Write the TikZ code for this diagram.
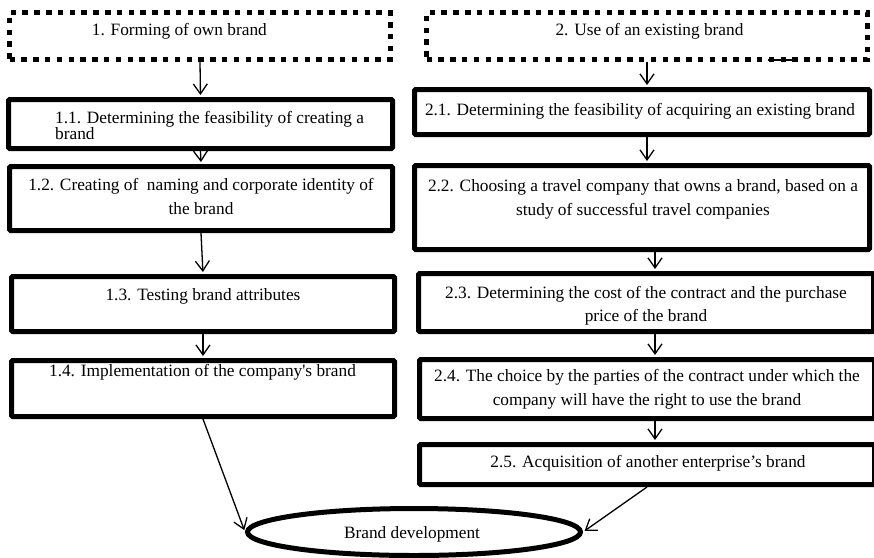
\documentclass[tikz,border=0pt]{standalone}
\usepackage{fontspec}
\setmainfont{Liberation Serif}
\usetikzlibrary{arrows.meta,shapes.geometric}
\begin{document}
\begin{tikzpicture}[x=1pt,y=-1pt,
  box/.style={draw, line width=5pt, rounded corners=1.2pt, inner sep=0pt},
  dotbox/.style={draw, line width=5pt, dash pattern=on 5.5pt off 6.3pt, inner sep=0pt},
  txt/.style={font=\fontsize{17.3}{23.5}\selectfont, inner sep=0pt, align=center, anchor=base},
  arr/.style={line width=1.3pt, shorten >=2pt, -{Straight Barb[length=10pt,width=14pt]}},
]
\useasboundingbox (0,0) rectangle (874,557);
% boxes
\node[dotbox, minimum width=381pt, minimum height=47pt] (b1) at (200,36) {};
\node[dotbox, minimum width=441pt, minimum height=47pt] (b2) at (647,36) {};
\node[box, minimum width=384pt, minimum height=49pt] (b11) at (200.5,124) {};
\node[box, minimum width=383pt, minimum height=64pt] (b12) at (201,198.5) {};
\node[box, minimum width=383pt, minimum height=55pt] (b13) at (203,304) {};
\node[box, minimum width=383pt, minimum height=56pt] (b14) at (203,388.5) {};
\node[box, minimum width=455pt, minimum height=45pt] (b21) at (642,112) {};
\node[box, minimum width=455pt, minimum height=84pt] (b22) at (642,207.5) {};
\node[box, minimum width=455pt, minimum height=58pt] (b23) at (646,302.5) {};
\node[box, minimum width=455pt, minimum height=59pt] (b24) at (647,389) {};
\node[box, minimum width=455pt, minimum height=40pt] (b25) at (647,464.5) {};
\node[ellipse, draw, line width=5pt, inner sep=0pt, minimum width=333pt, minimum height=47pt] (dev) at (414,532) {};
% small mark on the dotted border
\draw[line width=1.5pt] (768,60) -- (795,60);
% texts (multi-line nodes: base = baseline of last line)
\node[txt, anchor=base west] (t1) at (91.7,35) {1. Forming of own brand};
\node[txt] (t2) at (649.5,35) {2. Use of an existing brand};
\node[txt, anchor=base west, align=left, font=\fontsize{17.3}{16}\selectfont] (t11) at (55,139) {1.1. Determining the feasibility of creating a\\brand};
\node[txt] (t12) at (201,214) {1.2. Creating of\ \ naming and corporate identity of\\the brand};
\node[txt] (t13) at (203,300) {1.3. Testing brand attributes};
\node[txt] (t14) at (202.5,376.7) {1.4. Implementation of the company\textquotesingle s brand};
\node[txt] (t21) at (640,115) {2.1. Determining the feasibility of acquiring an existing brand};
\node[txt] (t22) at (643,215) {2.2. Choosing a travel company that owns a brand, based on a\\study of successful travel companies};
\node[txt] (t23) at (646,321.5) {2.3. Determining the cost of the contract and the purchase\\price of the brand};
\node[txt] (t24) at (647,405) {2.4. The choice by the parties of the contract under which the\\company will have the right to use the brand};
\node[txt] (t25) at (648,467.7) {2.5. Acquisition of another enterprise’s brand};
\node[txt] (tdev) at (412,538) {Brand development};
% connectors
\coordinate (xb) at (655,0);
\draw[arr] (b1.south) -- (b11.north);
\draw[arr] (b11.south) -- (b12.north);
\draw[arr] (b12.south) -- (b13.north);
\draw[arr] (b13.south) -- (b14.north);
\draw[arr] (b2.south) -- (b21.north -| b2.south);
\draw[arr] (b21.south -| b2.south) -- (b22.north -| b2.south);
\draw[arr] (b22.south -| xb) -- (b23.north -| xb);
\draw[arr] (b23.south -| xb) -- (b24.north -| xb);
\draw[arr] (b24.south -| xb) -- (b25.north -| xb);
\draw[arr] (b14.south) -- (dev.west);
\draw[arr] (b25.south) -- (dev.east);
\end{tikzpicture}
\end{document}
